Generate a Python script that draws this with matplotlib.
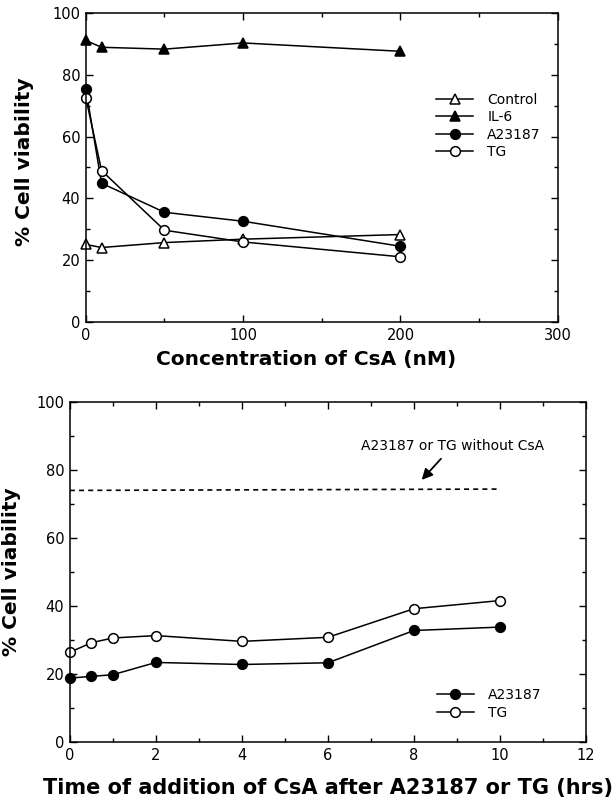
import matplotlib
matplotlib.use("Agg")
import matplotlib.pyplot as plt
from matplotlib.ticker import MultipleLocator

plt.rcParams["font.family"] = ["DejaVu Sans"]

# ==============================
# Data
# ==============================
conc = [0, 10, 50, 100, 200]
control = [25.1, 24.1, 25.7, 26.8, 28.3]
il6 = [91.1, 88.9, 88.3, 90.3, 87.6]
a23187_conc = [75.4, 44.9, 35.5, 32.6, 24.5]
tg_conc = [72.6, 49.0, 29.7, 25.9, 21.1]

hours = [0, 0.5, 1, 2, 4, 6, 8, 10]
a23187_time = [18.8, 19.3, 19.8, 23.4, 22.8, 23.3, 32.8, 33.8]
tg_time = [26.4, 29.2, 30.6, 31.3, 29.6, 30.8, 39.2, 41.6]

no_csa_x = [0, 10]
no_csa_y = [74.0, 74.4]

fig = plt.figure(figsize=(6.13, 8.06), dpi=100)
ax1 = fig.add_axes([0.140, 0.6005, 0.770, 0.3834])
ax2 = fig.add_axes([0.114, 0.0794, 0.842, 0.4218])

line_kw = dict(color="black", linewidth=1.1, markersize=7,
               markeredgewidth=1.1, clip_on=False)


def style_axes(ax):
    ax.tick_params(which="both", direction="in", top=True, right=True,
                   labelsize=10.5, width=1.0)
    ax.tick_params(which="major", length=5, pad=4)
    ax.tick_params(which="minor", length=3)
    for s in ax.spines.values():
        s.set_linewidth(1.1)


# ==============================
# Top panel
# ==============================
ax1.plot(conc, control, marker="^", markerfacecolor="white", label="Control", **line_kw)
ax1.plot(conc, il6, marker="^", markerfacecolor="black", label="IL-6", **line_kw)
ax1.plot(conc, a23187_conc, marker="o", markerfacecolor="black", label="A23187", **line_kw)
ax1.plot(conc, tg_conc, marker="o", markerfacecolor="white", label="TG", **line_kw)

ax1.set_xlim(0, 300)
ax1.set_ylim(0, 100)
ax1.xaxis.set_major_locator(MultipleLocator(100))
ax1.xaxis.set_minor_locator(MultipleLocator(50))
ax1.yaxis.set_major_locator(MultipleLocator(20))
ax1.yaxis.set_minor_locator(MultipleLocator(10))
style_axes(ax1)
ax1.set_xlabel("Concentration of CsA (nM)", fontsize=14.5, fontweight="bold")
ax1.xaxis.set_label_coords(0.466, -0.09)
ax1.set_ylabel("% Cell viability", fontsize=14.5, fontweight="bold")
ax1.yaxis.set_label_coords(-0.11, 0.52)
ax1.legend(loc="upper left", bbox_to_anchor=(0.73, 0.76), frameon=False,
           fontsize=10, handlelength=2.7, handletextpad=1.0,
           labelspacing=0.25, borderaxespad=0)

# ==============================
# Bottom panel
# ==============================
ax2.plot(no_csa_x, no_csa_y, color="black", linewidth=1.2, linestyle=(0, (3, 2.5)))
ax2.plot(hours, a23187_time, marker="o", markerfacecolor="black", label="A23187", **line_kw)
ax2.plot(hours, tg_time, marker="o", markerfacecolor="white", label="TG", **line_kw)

ax2.annotate("A23187 or TG without CsA", xy=(8.18, 77.1), xytext=(8.9, 87.1),
             ha="center", va="center", fontsize=10,
             arrowprops=dict(arrowstyle="-|>", color="black", lw=1.3,
                             mutation_scale=16, shrinkA=3, shrinkB=0))

ax2.set_xlim(0, 12)
ax2.set_ylim(0, 100)
ax2.xaxis.set_major_locator(MultipleLocator(2))
ax2.xaxis.set_minor_locator(MultipleLocator(1))
ax2.yaxis.set_major_locator(MultipleLocator(20))
ax2.yaxis.set_minor_locator(MultipleLocator(10))
style_axes(ax2)
ax2.set_xlabel("Time of addition of CsA after A23187 or TG (hrs)",
               fontsize=15, fontweight="bold", labelpad=11)
ax2.set_ylabel("% Cell viability", fontsize=14.5, fontweight="bold")
ax2.yaxis.set_label_coords(-0.095, 0.5)
ax2.legend(loc="upper left", bbox_to_anchor=(0.70, 0.175), frameon=False,
           fontsize=10, handlelength=2.7, handletextpad=1.0,
           labelspacing=0.25, borderaxespad=0)

fig.savefig("out.png", dpi=100)
